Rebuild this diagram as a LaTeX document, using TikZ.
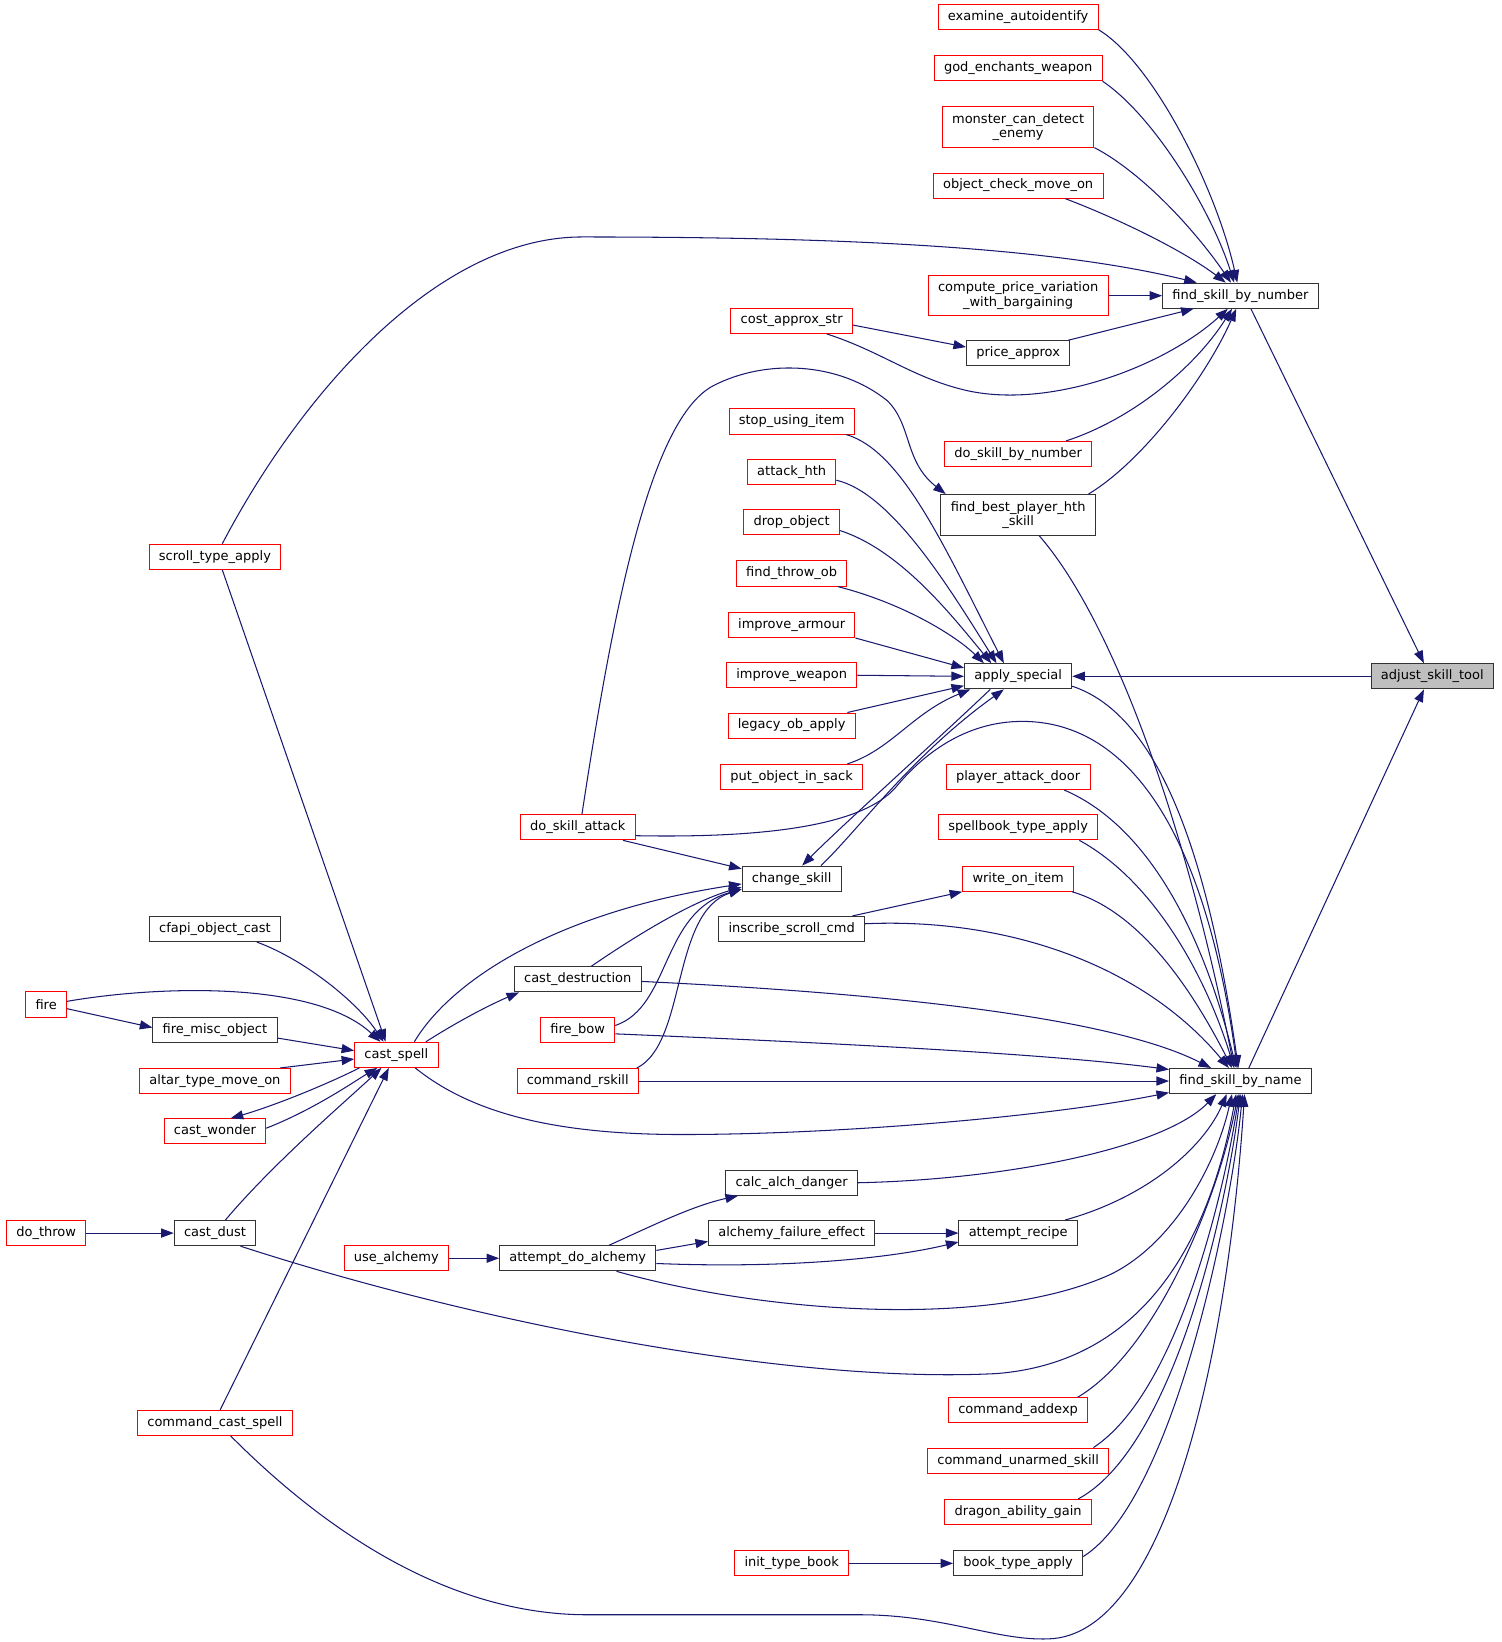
\documentclass[tikz,border=0pt]{standalone}
\usepackage{fontspec}
\setmainfont{DejaVu Sans}
\usetikzlibrary{calc, arrows.meta}
\definecolor{callblue}{HTML}{191970}
\tikzset{>={Triangle[length=9pt,width=6.5pt]}}

\begin{document}
\begin{tikzpicture}[x=0.75pt, y=-0.75pt,
  fn/.style={draw=black!80, fill=white, line width=0.7pt, minimum height=18pt, inner xsep=7pt, inner ysep=1pt, align=center, font=\fontsize{9.3}{10.3}\selectfont},
  undoc/.style={fn, draw=red},
  twoline/.style={minimum height=29pt},
  call/.style={->, draw=callblue, line width=0.75pt}]
\useasboundingbox (0,0) rectangle (1432,1566);

% right part
\node[fn, fill=black!25] (adjust) at (1366,645) {adjust\_skill\_tool};
\node[fn] (bynum) at (1183,282) {find\_skill\_by\_number};
\node[fn] (byname) at (1183,1031) {find\_skill\_by\_name};
\node[fn] (applysp) at (971,645) {apply\_special};

\node[undoc] (examine) at (971,16) {examine\_autoidentify};
\node[undoc] (godench) at (971,65) {god\_enchants\_weapon};
\node[undoc, twoline] (monster) at (971,121) {monster\_can\_detect\\\_enemy};
\node[undoc] (objcheck) at (971,177) {object\_check\_move\_on};
\node[undoc, twoline] (compute) at (971,282) {compute\_price\_variation\\\_with\_bargaining};
\node[fn] (priceapprox) at (971,337) {price\_approx};
\node[undoc] (doskillnum) at (971,433) {do\_skill\_by\_number};
\node[fn, twoline] (findbest) at (971,491) {find\_best\_player\_hth\\\_skill};
\node[undoc] (attackdoor) at (971,741) {player\_attack\_door};
\node[undoc] (spellbook) at (971,789) {spellbook\_type\_apply};
\node[undoc] (writeitem) at (971,838) {write\_on\_item};
\node[fn] (recipe) at (971,1176) {attempt\_recipe};
\node[undoc] (addexp) at (971,1345) {command\_addexp};
\node[undoc] (unarmed) at (971,1393) {command\_unarmed\_skill};
\node[undoc] (dragon) at (971,1442) {dragon\_ability\_gain};
\node[fn] (bookapply) at (971,1491) {book\_type\_apply};

\node[undoc] (costapprox) at (755,306) {cost\_approx\_str};
\node[undoc] (stopusing) at (755,402) {stop\_using\_item};
\node[undoc] (attackhth) at (755,450) {attack\_hth};
\node[undoc] (dropobj) at (755,498) {drop\_object};
\node[undoc] (throwob) at (755,547) {find\_throw\_ob};
\node[undoc] (armour) at (755,596) {improve\_armour};
\node[undoc] (weapon) at (755,644) {improve\_weapon};
\node[undoc] (legacy) at (755,692) {legacy\_ob\_apply};
\node[undoc] (sack) at (755,741) {put\_object\_in\_sack};
\node[fn] (change) at (755,838) {change\_skill};
\node[fn] (inscribe) at (755,886) {inscribe\_scroll\_cmd};
\node[fn] (alchdanger) at (755,1128) {calc\_alch\_danger};
\node[fn] (failure) at (755,1176) {alchemy\_failure\_effect};
\node[undoc] (inittype) at (755,1491) {init\_type\_book};

% left part
\node[undoc] (skillattack) at (551,789) {do\_skill\_attack};
\node[fn] (destruction) at (551,934) {cast\_destruction};
\node[undoc] (firebow) at (551,982) {fire\_bow};
\node[undoc] (rskill) at (551,1031) {command\_rskill};
\node[fn] (doalchemy) at (551,1200) {attempt\_do\_alchemy};
\node[undoc] (castspell) at (378,1006) {cast\_spell};
\node[undoc] (usealchemy) at (378,1200) {use\_alchemy};
\node[undoc] (scroll) at (205,531) {scroll\_type\_apply};
\node[fn] (cfapi) at (205,886) {cfapi\_object\_cast};
\node[fn] (firemisc) at (205,982) {fire\_misc\_object};
\node[undoc] (altar) at (205,1031) {altar\_type\_move\_on};
\node[undoc] (wonder) at (205,1079) {cast\_wonder};
\node[fn] (castdust) at (205,1176) {cast\_dust};
\node[undoc] (castcmd) at (205,1357) {command\_cast\_spell};
\node[undoc] (fire) at (44,958) {fire};
\node[undoc] (dothrow) at (44,1176) {do\_throw};

% into find_skill_by_number
\draw[call] (examine.south east) .. controls (1100,60) and (1160,180) .. ($(bynum.north)+(-3,0)$);
\draw[call] (godench.south east) .. controls (1100,110) and (1155,200) .. ($(bynum.north)+(-6,0)$);
\draw[call] (monster.south east) .. controls (1090,165) and (1140,220) .. ($(bynum.north)+(-9,0)$);
\draw[call] ($(objcheck.south)+(45,0)$) .. controls (1070,210) and (1130,240) .. ($(bynum.north)+(-14,0)$);
\draw[call] (compute.east) -- (bynum.west);
\draw[call] ($(priceapprox.north east)+(-2,0)$) -- ($(bynum.south west)+(30,0)$);
\draw[call] ($(costapprox.south east)+(-25,0)$) .. controls (840,335) and (870,360) .. (920,372)
  .. controls (1000,391) and (1110,350) .. ($(bynum.south)+(-12,0)$);
\draw[call] ($(doskillnum.north east)+(-25,0)$) .. controls (1080,400) and (1140,350) .. ($(bynum.south)+(-8,0)$);
\draw[call] ($(findbest.north east)+(-7,0)$) .. controls (1090,440) and (1150,360) .. ($(bynum.south)+(-4,0)$);
\draw[call] ($(scroll.north)+(7,0)$) .. controls (290,370) and (420,226) .. (555,226)
  .. controls (800,226) and (1000,235) .. ($(bynum.north west)+(33,0)$);
\draw[call] ($(bynum.south)+(10,0)$) -- ($(adjust.north)+(-8,0)$);
\draw[call] ($(byname.north)+(8,0)$) -- ($(adjust.south)+(-8,0)$);
\draw[call] (adjust.west) -- (applysp.east);

% into apply_special
\draw[call] ($(stopusing.south east)+(-8,0)$) .. controls (860,430) and (900,520) .. ($(applysp.north west)+(38,0)$);
\draw[call] ($(attackhth.east)+(0,8)$) .. controls (850,470) and (905,560) .. ($(applysp.north west)+(31,0)$);
\draw[call] ($(dropobj.east)+(0,8)$) .. controls (860,525) and (910,590) .. ($(applysp.north west)+(26,0)$);
\draw[call] ($(throwob.south east)+(-9,0)$) .. controls (860,575) and (910,605) .. ($(applysp.north west)+(19,0)$);
\draw[call] (armour.south east) -- ($(applysp.west)+(0,-8)$);
\draw[call] (weapon.east) -- (applysp.west);
\draw[call] ($(legacy.north east)+(-8,0)$) -- ($(applysp.west)+(0,9)$);
\draw[call] ($(sack.north east)+(-15,0)$) .. controls (850,715) and (870,680) .. ($(applysp.south west)+(6,0)$);
\draw[call] ($(applysp.south west)+(25,0)$) .. controls (900,700) and (800,790) .. ($(change.north)+(10,0)$);
\draw[call] ($(change.north)+(28,0)$) .. controls (820,790) and (870,720) .. ($(applysp.south west)+(38,0)$);

% do_skill_attack
\draw[call] ($(skillattack.south east)+(-12,0)$) -- ($(change.north west)+(0,3)$);
\draw[call] ($(skillattack.east)+(0,8)$) .. controls (760,800) and (830,780) .. (855,750)
  .. controls (880,720) and (920,688) .. (975,688) .. controls (1080,688) and (1150,800) .. ($(byname.north)+(-3,0)$);
\draw[call] ($(skillattack.north)+(4,0)$) .. controls (585,580) and (620,400) .. (680,368)
  .. controls (730,342) and (800,345) .. (846,382) .. controls (870,405) and (862,440) .. ($(findbest.north west)+(5,0)$);

% into change_skill
\draw[call] ($(castspell.north east)+(-23,0)$) .. controls (430,935) and (530,870) .. ($(change.west)+(0,5)$);
\draw[call] ($(destruction.north east)+(-48,0)$) .. controls (610,890) and (660,860) .. ($(change.west)+(0,8)$);
\draw[call] ($(firebow.east)+(0,-4)$) .. controls (640,960) and (630,870) .. ($(change.west)+(0,10)$);
\draw[call] ($(rskill.north east)+(-2,0)$) .. controls (655,995) and (640,870) .. ($(change.west)+(0,10)$);

% into find_skill_by_name
\draw[call] ($(applysp.south east)+(0,-3)$) .. controls (1100,680) and (1150,800) .. ($(byname.north)+(-2,0)$);
\draw[call] ($(findbest.south)+(20,0)$) .. controls (1060,590) and (1130,780) .. ($(byname.north)+(-6,0)$);
\draw[call] ($(attackdoor.south east)+(-25,0)$) .. controls (1100,790) and (1150,900) .. ($(byname.north)+(-4,0)$);
\draw[call] ($(spellbook.south east)+(-18,0)$) .. controls (1100,840) and (1150,930) .. ($(byname.north)+(-6,0)$);
\draw[call] ($(writeitem.south east)+(-2,0)$) .. controls (1090,870) and (1140,950) .. ($(byname.north)+(-8,0)$);
\draw[call] ($(inscribe.east)+(0,-5)$) .. controls (960,875) and (1090,920) .. ($(byname.north west)+(57,0)$);
\draw[call] ($(destruction.east)+(0,2)$) .. controls (800,945) and (1050,965) .. ($(byname.north west)+(40,0)$);
\draw[call] ($(firebow.east)+(0,4)$) .. controls (800,995) and (1000,1005) .. ($(byname.west)+(0,-11)$);
\draw[call] (rskill.east) -- (byname.west);
\draw[call] ($(castspell.south)+(18,0)$) .. controls (450,1062) and (530,1082) .. (650,1082)
  .. controls (800,1082) and (1000,1065) .. ($(byname.west)+(0,11)$);
\draw[call] (alchdanger.east) .. controls (960,1125) and (1110,1095) .. ($(byname.south west)+(45,0)$);
\draw[call] ($(recipe.north east)+(-12,0)$) .. controls (1100,1140) and (1150,1090) .. ($(byname.south west)+(55,0)$);
\draw[call] ($(doalchemy.south east)+(-38,0)$) .. controls (720,1250) and (940,1270) .. (1060,1215)
  .. controls (1120,1185) and (1160,1110) .. ($(byname.south west)+(60,0)$);
\draw[call] ($(castdust.south east)+(-15,0)$) .. controls (450,1260) and (750,1320) .. (950,1310)
  .. controls (1080,1300) and (1150,1200) .. ($(byname.south west)+(64,0)$);
\draw[call] ($(addexp.north east)+(-10,0)$) .. controls (1100,1290) and (1160,1150) .. ($(byname.south west)+(66,0)$);
\draw[call] ($(unarmed.north east)+(-15,0)$) .. controls (1120,1330) and (1165,1150) .. ($(byname.south west)+(67,0)$);
\draw[call] ($(dragon.north east)+(-13,0)$) .. controls (1120,1380) and (1170,1150) .. ($(byname.south west)+(68,0)$);
\draw[call] ($(bookapply.north east)+(0,6)$) .. controls (1120,1430) and (1175,1150) .. ($(byname.south west)+(70,0)$);
\draw[call] ($(castcmd.south)+(15,0)$) .. controls (300,1450) and (420,1540) .. (560,1540) -- (820,1540)
  .. controls (900,1540) and (950,1565) .. (1000,1563) .. controls (1110,1560) and (1170,1300) .. ($(byname.south west)+(72,0)$);

% small calls
\draw[call] ($(inscribe.north east)+(-12,0)$) -- (writeitem.south west);
\draw[call] ($(costapprox.east)+(0,4)$) -- ($(priceapprox.west)+(0,-6)$);
\draw[call] ($(scroll.south)+(7,0)$) -- ($(castspell.north west)+(30,0)$);
\draw[call] ($(castspell.north east)+(-12,0)$) .. controls (440,972) and (470,957) .. ($(destruction.south west)+(5,0)$);
\draw[call] ($(fire.east)+(0,-3)$) .. controls (150,940) and (300,935) .. ($(castspell.north west)+(25,0)$);
\draw[call] ($(fire.east)+(0,4)$) -- ($(firemisc.west)+(0,-2)$);
\draw[call] ($(cfapi.south)+(40,0)$) .. controls (290,915) and (340,955) .. ($(castspell.north west)+(28,0)$);
\draw[call] ($(firemisc.east)+(0,8)$) -- ($(castspell.west)+(0,-4)$);
\draw[call] ($(altar.north east)+(-10,0)$) -- ($(castspell.west)+(0,4)$);
\draw[call] ($(castspell.south west)+(5,0)$) .. controls (310,1035) and (260,1055) .. ($(wonder.north)+(15,0)$);
\draw[call] ($(wonder.east)+(0,-3)$) .. controls (300,1058) and (340,1030) .. ($(castspell.south west)+(22,0)$);
\draw[call] ($(castdust.north)+(10,0)$) .. controls (260,1110) and (330,1050) .. ($(castspell.south west)+(26,0)$);
\draw[call] ($(castcmd.north)+(5,0)$) -- ($(castspell.south west)+(33,0)$);
\draw[call] (dothrow.east) -- (castdust.west);
\draw[call] (usealchemy.east) -- (doalchemy.west);
\draw[call] ($(doalchemy.north)+(30,0)$) .. controls (620,1170) and (660,1150) .. ($(alchdanger.south west)+(12,0)$);
\draw[call] ($(doalchemy.north east)+(0,5)$) -- ($(failure.west)+(0,8)$);
\draw[call] (failure.east) -- (recipe.west);
\draw[call] ($(doalchemy.east)+(0,5)$) .. controls (750,1210) and (850,1200) .. ($(recipe.south west)+(0,-4)$);
\draw[call] (inittype.east) -- (bookapply.west);
\end{tikzpicture}
\end{document}
